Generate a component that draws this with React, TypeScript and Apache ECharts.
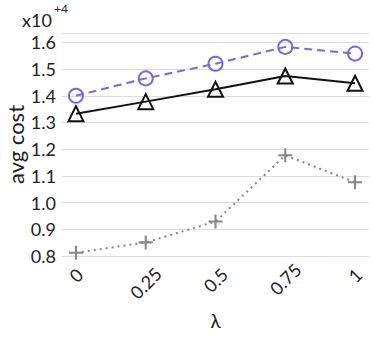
import React, { useEffect, useRef } from "react";
import * as echarts from "echarts";

const lambdas = [0, 0.25, 0.5, 0.75, 1];
const tickLabels = ["0", "0.25", "0.5", "0.75", "1"];
const purpleSeries = [1.4, 1.465, 1.52, 1.583, 1.558];
const blackSeries = [1.333, 1.378, 1.424, 1.474, 1.447];
const graySeries = [0.812, 0.851, 0.929, 1.177, 1.076];

const FONT = "Lato";
const plusPath = "path://M4.25,0 H5.75 V4.25 H10 V5.75 H5.75 V10 H4.25 V5.75 H0 V4.25 H4.25 Z";

// per-label shift so that rotated labels are top-aligned like the reference
const labelShift = [11.3, 0, 4.2, 5.7, 11.3];

export default function App() {
  const ref = useRef<HTMLDivElement>(null);
  useEffect(() => {
    if (!ref.current) return;
    const chart = echarts.init(ref.current, null, { renderer: "svg" });
    const pts = (vals: number[]) => lambdas.map((x, i) => [x, vals[i]]);
    const rich: Record<string, any> = {};
    labelShift.forEach((k, i) => {
      rich["s" + i] = { width: k, fontFamily: FONT, fontSize: 18, color: "rgba(0,0,0,0)" };
      rich["l" + i] = { fontFamily: FONT, fontSize: 18, color: "#222", padding: [0, 0, k, 0] };
    });
    chart.setOption({
      animation: false,
      grid: { left: 62, right: 5, top: 33, bottom: 85, outerBoundsMode: "none" },
      xAxis: {
        type: "value",
        min: -0.05,
        max: 1.05,
        name: "λ",
        nameLocation: "middle",
        nameGap: 55,
        nameMoveOverlap: false,
        nameTextStyle: { fontFamily: FONT, fontSize: 19, color: "#222" },
        axisLine: { show: false },
        axisTick: { show: false },
        splitLine: { show: false },
        axisLabel: {
          customValues: lambdas,
          rotate: 45,
          align: "center",
          verticalAlign: "middle",
          margin: 27,
          fontFamily: FONT,
          fontSize: 18,
          color: "#222",
          rich,
          formatter: (v: number) => {
            const i = lambdas.indexOf(v);
            if (i < 0) return "";
            return (labelShift[i] > 0 ? "{s" + i + "| }" : "") + "{l" + i + "|" + tickLabels[i] + "}";
          },
        },
      },
      yAxis: {
        type: "value",
        min: 0.8,
        max: 1.635,
        interval: 0.1,
        name: "avg cost",
        nameLocation: "middle",
        nameGap: 36,
        nameMoveOverlap: false,
        nameTextStyle: { fontFamily: FONT, fontSize: 22, color: "#222" },
        axisLine: { show: false },
        axisTick: { show: false },
        splitLine: { lineStyle: { color: "#dcdcdc", width: 1 } },
        axisLabel: {
          fontFamily: FONT,
          fontSize: 18,
          color: "#222",
          margin: 6,
          formatter: (v: number) => (Math.abs(v * 10 - Math.round(v * 10)) < 1e-6 ? v.toFixed(1) : ""),
        },
      },
      graphic: [
        {
          type: "text",
          left: 22,
          top: 11,
          style: { text: "x10", fontFamily: FONT, fontSize: 18, fill: "#222" },
        },
        {
          type: "text",
          left: 54,
          top: 2,
          style: { text: "+4", fontFamily: FONT, fontSize: 12, fill: "#222" },
        },
      ],
      series: [
        {
          type: "line",
          data: pts(graySeries),
          symbol: plusPath,
          symbolSize: 14,
          lineStyle: { color: "#888", width: 2, type: [2, 4] },
          itemStyle: { color: "#888", borderWidth: 0 },
          z: 2,
        },
        {
          type: "line",
          data: pts(blackSeries),
          symbol: "triangle",
          symbolSize: 15,
          lineStyle: { color: "#111", width: 2 },
          itemStyle: { color: "none", borderColor: "#111", borderWidth: 2 },
          z: 3,
        },
        {
          type: "line",
          data: pts(purpleSeries),
          symbol: "circle",
          symbolSize: 14,
          lineStyle: { color: "#7b68e0", width: 2, type: [8, 5] },
          itemStyle: { color: "none", borderColor: "#7b68e0", borderWidth: 2 },
          z: 4,
        },
      ],
    });
    return () => chart.dispose();
  }, []);
  return <div ref={ref} style={{ width: 374, height: 341, position: "absolute", left: 0, top: 0 }} />;
}
